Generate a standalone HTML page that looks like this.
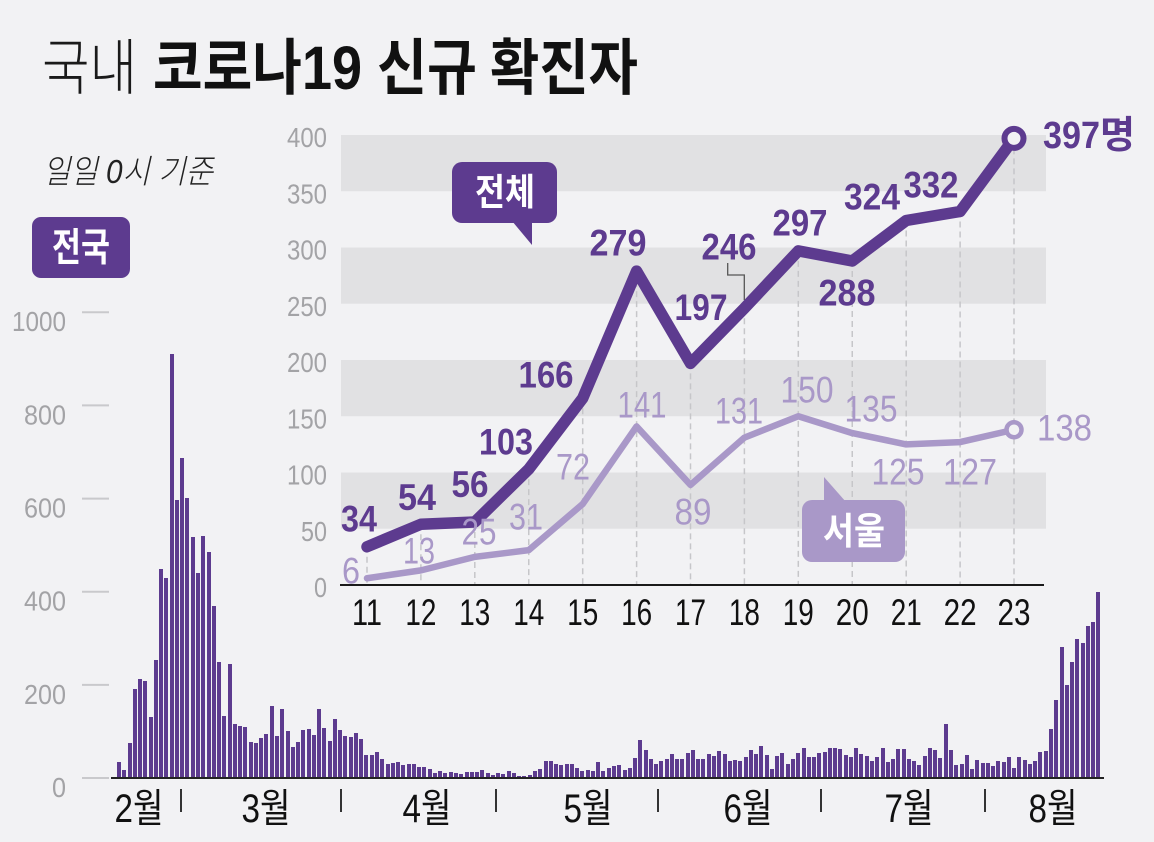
<!DOCTYPE html>
<html><head><meta charset="utf-8">
<style>
html,body{margin:0;padding:0;}
body{width:1154px;height:842px;background:#f2f2f4;position:relative;overflow:hidden;font-family:"Liberation Sans","Noto Sans CJK KR",sans-serif;}
#bars{position:absolute;left:117px;top:0;height:777px;display:flex;align-items:flex-end;}
#bars i{display:block;flex:none;width:4px;margin-right:1.274px;height:calc(var(--v) * 0.4657px);background:#5d3b8f;}
svg{position:absolute;left:0;top:0;}
</style></head><body>
<div id="bars">
<i style="--v:33"></i><i style="--v:16"></i><i style="--v:72"></i><i style="--v:190"></i><i style="--v:210"></i><i style="--v:206"></i><i style="--v:129"></i><i style="--v:252"></i><i style="--v:447"></i><i style="--v:427"></i><i style="--v:909"></i>
<i style="--v:595"></i><i style="--v:686"></i><i style="--v:600"></i><i style="--v:516"></i><i style="--v:438"></i><i style="--v:518"></i><i style="--v:483"></i><i style="--v:367"></i><i style="--v:248"></i><i style="--v:131"></i><i style="--v:242"></i><i style="--v:114"></i><i style="--v:110"></i><i style="--v:107"></i><i style="--v:76"></i><i style="--v:74"></i><i style="--v:84"></i><i style="--v:93"></i><i style="--v:152"></i><i style="--v:87"></i><i style="--v:147"></i><i style="--v:98"></i><i style="--v:64"></i><i style="--v:76"></i><i style="--v:100"></i><i style="--v:104"></i><i style="--v:91"></i><i style="--v:146"></i><i style="--v:105"></i><i style="--v:78"></i><i style="--v:125"></i>
<i style="--v:101"></i><i style="--v:89"></i><i style="--v:86"></i><i style="--v:94"></i><i style="--v:81"></i><i style="--v:47"></i><i style="--v:47"></i><i style="--v:53"></i><i style="--v:39"></i><i style="--v:27"></i><i style="--v:30"></i><i style="--v:32"></i><i style="--v:25"></i><i style="--v:27"></i><i style="--v:27"></i><i style="--v:22"></i><i style="--v:22"></i><i style="--v:18"></i><i style="--v:8"></i><i style="--v:13"></i><i style="--v:9"></i><i style="--v:11"></i><i style="--v:8"></i><i style="--v:6"></i><i style="--v:10"></i><i style="--v:10"></i><i style="--v:10"></i><i style="--v:14"></i><i style="--v:9"></i><i style="--v:4"></i>
<i style="--v:9"></i><i style="--v:6"></i><i style="--v:13"></i><i style="--v:8"></i><i style="--v:3"></i><i style="--v:2"></i><i style="--v:4"></i><i style="--v:12"></i><i style="--v:18"></i><i style="--v:34"></i><i style="--v:35"></i><i style="--v:27"></i><i style="--v:26"></i><i style="--v:29"></i><i style="--v:27"></i><i style="--v:19"></i><i style="--v:13"></i><i style="--v:15"></i><i style="--v:13"></i><i style="--v:32"></i><i style="--v:12"></i><i style="--v:20"></i><i style="--v:23"></i><i style="--v:25"></i><i style="--v:16"></i><i style="--v:19"></i><i style="--v:40"></i><i style="--v:79"></i><i style="--v:58"></i><i style="--v:39"></i><i style="--v:27"></i>
<i style="--v:35"></i><i style="--v:38"></i><i style="--v:49"></i><i style="--v:39"></i><i style="--v:39"></i><i style="--v:51"></i><i style="--v:57"></i><i style="--v:38"></i><i style="--v:38"></i><i style="--v:50"></i><i style="--v:45"></i><i style="--v:56"></i><i style="--v:49"></i><i style="--v:34"></i><i style="--v:37"></i><i style="--v:34"></i><i style="--v:43"></i><i style="--v:59"></i><i style="--v:49"></i><i style="--v:67"></i><i style="--v:48"></i><i style="--v:17"></i><i style="--v:46"></i><i style="--v:51"></i><i style="--v:28"></i><i style="--v:39"></i><i style="--v:51"></i><i style="--v:62"></i><i style="--v:42"></i><i style="--v:43"></i>
<i style="--v:51"></i><i style="--v:54"></i><i style="--v:63"></i><i style="--v:63"></i><i style="--v:61"></i><i style="--v:48"></i><i style="--v:44"></i><i style="--v:63"></i><i style="--v:50"></i><i style="--v:45"></i><i style="--v:35"></i><i style="--v:44"></i><i style="--v:62"></i><i style="--v:33"></i><i style="--v:39"></i><i style="--v:61"></i><i style="--v:60"></i><i style="--v:39"></i><i style="--v:34"></i><i style="--v:26"></i><i style="--v:45"></i><i style="--v:63"></i><i style="--v:59"></i><i style="--v:41"></i><i style="--v:113"></i><i style="--v:58"></i><i style="--v:25"></i><i style="--v:28"></i><i style="--v:48"></i><i style="--v:18"></i><i style="--v:36"></i>
<i style="--v:31"></i><i style="--v:30"></i><i style="--v:23"></i><i style="--v:34"></i><i style="--v:33"></i><i style="--v:43"></i><i style="--v:20"></i><i style="--v:43"></i><i style="--v:36"></i><i style="--v:28"></i><i style="--v:34"></i><i style="--v:54"></i><i style="--v:56"></i><i style="--v:103"></i><i style="--v:166"></i><i style="--v:279"></i><i style="--v:197"></i><i style="--v:246"></i><i style="--v:297"></i><i style="--v:288"></i><i style="--v:324"></i><i style="--v:332"></i><i style="--v:397"></i>
</div>
<svg width="1154" height="842" viewBox="0 0 1154 842" font-family="'Liberation Sans','Noto Sans CJK KR',sans-serif">
  <!-- Title -->
  <text x="42" y="89" font-size="61" font-weight="300" fill="#1a1a1a" textLength="95" lengthAdjust="spacingAndGlyphs">국내</text>
  <text x="153" y="89" font-size="61" font-weight="bold" fill="#111" textLength="209" lengthAdjust="spacingAndGlyphs">코로나19</text>
  <text x="377" y="89" font-size="61" font-weight="bold" fill="#111" textLength="100" lengthAdjust="spacingAndGlyphs">신규</text>
  <text x="490" y="89" font-size="61" font-weight="bold" fill="#111" textLength="148" lengthAdjust="spacingAndGlyphs">확진자</text>

  <!-- subtitle -->
  <text x="43" y="183" font-size="33" font-style="italic" font-weight="300" fill="#222" textLength="170" lengthAdjust="spacingAndGlyphs">일일 0시 기준</text>

  <!-- 전국 box -->
  <rect x="32" y="217" width="98" height="61" rx="9" fill="#5d3b8f"/>
  <text x="52" y="261" font-size="39" font-weight="bold" fill="#fff" textLength="58" lengthAdjust="spacingAndGlyphs">전국</text>

  <!-- Left axis ticks & labels -->
  <g stroke="#c9c9cc" stroke-width="2">
    <line x1="82" y1="312.3" x2="109" y2="312.3"/>
    <line x1="82" y1="405.4" x2="109" y2="405.4"/>
    <line x1="82" y1="498.6" x2="109" y2="498.6"/>
    <line x1="82" y1="591.7" x2="109" y2="591.7"/>
    <line x1="82" y1="684.9" x2="109" y2="684.9"/>
    <line x1="82" y1="778" x2="109" y2="778"/>
  </g>
  <g font-size="28" fill="#a3a3a6" text-anchor="end">
    <text x="66" y="331" textLength="54" lengthAdjust="spacingAndGlyphs">1000</text>
    <text x="66" y="424.4" textLength="42" lengthAdjust="spacingAndGlyphs">800</text>
    <text x="66" y="517.6" textLength="42" lengthAdjust="spacingAndGlyphs">600</text>
    <text x="66" y="610.7" textLength="42" lengthAdjust="spacingAndGlyphs">400</text>
    <text x="66" y="703.9" textLength="42" lengthAdjust="spacingAndGlyphs">200</text>
    <text x="66" y="797" textLength="14" lengthAdjust="spacingAndGlyphs">0</text>
  </g>

  <!-- Bar baseline -->
  <line x1="111" y1="778" x2="1104" y2="778" stroke="#222" stroke-width="2"/>
  <!-- month ticks -->
  <g stroke="#333" stroke-width="2">
    <line x1="181" y1="789" x2="181" y2="812"/>
    <line x1="341" y1="789" x2="341" y2="812"/>
    <line x1="496" y1="789" x2="496" y2="812"/>
    <line x1="658" y1="789" x2="658" y2="812"/>
    <line x1="821" y1="789" x2="821" y2="812"/>
    <line x1="985" y1="789" x2="985" y2="812"/>
  </g>
  <g font-size="40" fill="#111" text-anchor="middle">
    <text x="139" y="822" textLength="49" lengthAdjust="spacingAndGlyphs">2월</text>
    <text x="266" y="822" textLength="49" lengthAdjust="spacingAndGlyphs">3월</text>
    <text x="427" y="822" textLength="49" lengthAdjust="spacingAndGlyphs">4월</text>
    <text x="588" y="822" textLength="49" lengthAdjust="spacingAndGlyphs">5월</text>
    <text x="748" y="822" textLength="49" lengthAdjust="spacingAndGlyphs">6월</text>
    <text x="909" y="822" textLength="49" lengthAdjust="spacingAndGlyphs">7월</text>
    <text x="1053" y="822" textLength="49" lengthAdjust="spacingAndGlyphs">8월</text>
  </g>

  <!-- Inset bands -->
  <g fill="#e1e1e3">
    <rect x="341" y="135" width="705" height="56.25"/>
    <rect x="341" y="247.5" width="705" height="56.25"/>
    <rect x="341" y="360" width="705" height="56.25"/>
    <rect x="341" y="472.5" width="705" height="56.25"/>
  </g>
  <!-- Inset y labels -->
  <g font-size="28" fill="#a3a3a6" text-anchor="end">
    <text x="327" y="147" textLength="40" lengthAdjust="spacingAndGlyphs">400</text>
    <text x="327" y="203.25" textLength="40" lengthAdjust="spacingAndGlyphs">350</text>
    <text x="327" y="259.5" textLength="40" lengthAdjust="spacingAndGlyphs">300</text>
    <text x="327" y="315.75" textLength="40" lengthAdjust="spacingAndGlyphs">250</text>
    <text x="327" y="372" textLength="40" lengthAdjust="spacingAndGlyphs">200</text>
    <text x="327" y="428.25" textLength="40" lengthAdjust="spacingAndGlyphs">150</text>
    <text x="327" y="484.5" textLength="40" lengthAdjust="spacingAndGlyphs">100</text>
    <text x="327" y="540.75" textLength="26" lengthAdjust="spacingAndGlyphs">50</text>
    <text x="327" y="597" textLength="13" lengthAdjust="spacingAndGlyphs">0</text>
  </g>
  <!-- dashed verticals -->
  <g stroke="#c6c6c9" stroke-width="1.5" stroke-dasharray="6,4">
    <line x1="367" y1="546.75" x2="367" y2="585"/>
    <line x1="420.9" y1="524.25" x2="420.9" y2="585"/>
    <line x1="474.8" y1="522" x2="474.8" y2="585"/>
    <line x1="528.75" y1="469.1" x2="528.75" y2="585"/>
    <line x1="582.7" y1="398.25" x2="582.7" y2="585"/>
    <line x1="636.6" y1="271.1" x2="636.6" y2="585"/>
    <line x1="690.5" y1="363.4" x2="690.5" y2="585"/>
    <line x1="744.4" y1="308.25" x2="744.4" y2="585"/>
    <line x1="798.3" y1="250.9" x2="798.3" y2="585"/>
    <line x1="852.25" y1="261" x2="852.25" y2="585"/>
    <line x1="906.2" y1="220.5" x2="906.2" y2="585"/>
    <line x1="960.1" y1="211.5" x2="960.1" y2="585"/>
    <line x1="1014" y1="138.4" x2="1014" y2="585"/>
  </g>
  <!-- inset axis -->
  <line x1="340" y1="585" x2="1044" y2="585" stroke="#1a1a1a" stroke-width="2"/>
  <g font-size="37" fill="#111" text-anchor="middle">
    <text x="367" y="625" textLength="30" lengthAdjust="spacingAndGlyphs">11</text>
    <text x="420.9" y="625" textLength="31" lengthAdjust="spacingAndGlyphs">12</text>
    <text x="474.8" y="625" textLength="31" lengthAdjust="spacingAndGlyphs">13</text>
    <text x="528.75" y="625" textLength="31" lengthAdjust="spacingAndGlyphs">14</text>
    <text x="582.7" y="625" textLength="31" lengthAdjust="spacingAndGlyphs">15</text>
    <text x="636.6" y="625" textLength="31" lengthAdjust="spacingAndGlyphs">16</text>
    <text x="690.5" y="625" textLength="31" lengthAdjust="spacingAndGlyphs">17</text>
    <text x="744.4" y="625" textLength="31" lengthAdjust="spacingAndGlyphs">18</text>
    <text x="798.3" y="625" textLength="31" lengthAdjust="spacingAndGlyphs">19</text>
    <text x="852.25" y="625" textLength="33" lengthAdjust="spacingAndGlyphs">20</text>
    <text x="906.2" y="625" textLength="31" lengthAdjust="spacingAndGlyphs">21</text>
    <text x="960.1" y="625" textLength="33" lengthAdjust="spacingAndGlyphs">22</text>
    <text x="1014" y="625" textLength="33" lengthAdjust="spacingAndGlyphs">23</text>
  </g>

  <!-- Seoul line -->
  <polyline fill="none" stroke="#a998c8" stroke-width="6.5" stroke-linejoin="round" stroke-linecap="round"
    points="367,578.25 420.9,570.4 474.8,556.9 528.75,550.1 582.7,504 636.6,426.4 690.5,484.9 744.4,437.6 798.3,416.25 852.25,433.1 906.2,444.4 960.1,442.1 1014,429.75"/>
  <circle cx="1014" cy="429.75" r="7.5" fill="#f2f2f4" stroke="#a998c8" stroke-width="4.5"/>
  <!-- Total line -->
  <polyline fill="none" stroke="#5d3b8f" stroke-width="11.5" stroke-linejoin="round" stroke-linecap="round"
    points="367,546.75 420.9,524.25 474.8,522 528.75,469.1 582.7,398.25 636.6,271.1 690.5,363.4 744.4,308.25 798.3,250.9 852.25,261 906.2,220.5 960.1,211.5 1014,138.4"/>
  <circle cx="1014" cy="138.4" r="9.5" fill="#f2f2f4" stroke="#5d3b8f" stroke-width="6"/>

  <!-- leader for 246 -->
  <polyline fill="none" stroke="#555" stroke-width="1.3" points="727.7,263 727.7,275 744.3,275 744.3,300"/>

  <!-- Total labels -->
  <g font-size="37" font-weight="bold" fill="#5d3b8f" text-anchor="middle">
    <text x="359" y="531.5" textLength="36" lengthAdjust="spacingAndGlyphs">34</text>
    <text x="417" y="510" textLength="38" lengthAdjust="spacingAndGlyphs">54</text>
    <text x="470" y="497" textLength="37" lengthAdjust="spacingAndGlyphs">56</text>
    <text x="506" y="454.5" textLength="54" lengthAdjust="spacingAndGlyphs">103</text>
    <text x="546" y="387.5" textLength="55" lengthAdjust="spacingAndGlyphs">166</text>
    <text x="618" y="255.5" textLength="57" lengthAdjust="spacingAndGlyphs">279</text>
    <text x="701" y="320" textLength="53" lengthAdjust="spacingAndGlyphs">197</text>
    <text x="729" y="259.5" textLength="55" lengthAdjust="spacingAndGlyphs">246</text>
    <text x="800" y="235.5" textLength="55" lengthAdjust="spacingAndGlyphs">297</text>
    <text x="847" y="305.5" textLength="57" lengthAdjust="spacingAndGlyphs">288</text>
    <text x="872" y="209.5" textLength="56" lengthAdjust="spacingAndGlyphs">324</text>
    <text x="931" y="197.5" textLength="55" lengthAdjust="spacingAndGlyphs">332</text>
  </g>
  <text x="1043" y="148" font-size="38" font-weight="bold" fill="#5d3b8f" textLength="57" lengthAdjust="spacingAndGlyphs">397</text>
  <text x="1100" y="148" font-size="38" font-weight="bold" fill="#5d3b8f" textLength="35" lengthAdjust="spacingAndGlyphs">명</text>

  <!-- Seoul labels -->
  <g font-size="37" fill="#a998c8" text-anchor="middle">
    <text x="351" y="583.5" textLength="18" lengthAdjust="spacingAndGlyphs">6</text>
    <text x="419" y="563.5" textLength="32" lengthAdjust="spacingAndGlyphs">13</text>
    <text x="479" y="544.5" textLength="35" lengthAdjust="spacingAndGlyphs">25</text>
    <text x="526" y="529.5" textLength="34" lengthAdjust="spacingAndGlyphs">31</text>
    <text x="573" y="479.5" textLength="34" lengthAdjust="spacingAndGlyphs">72</text>
    <text x="642" y="417.5" textLength="49" lengthAdjust="spacingAndGlyphs">141</text>
    <text x="693" y="524.5" textLength="37" lengthAdjust="spacingAndGlyphs">89</text>
    <text x="739" y="423.5" textLength="48" lengthAdjust="spacingAndGlyphs">131</text>
    <text x="807" y="402.5" textLength="53" lengthAdjust="spacingAndGlyphs">150</text>
    <text x="871" y="421.5" textLength="53" lengthAdjust="spacingAndGlyphs">135</text>
    <text x="898" y="484.5" textLength="53" lengthAdjust="spacingAndGlyphs">125</text>
    <text x="970" y="484.5" textLength="54" lengthAdjust="spacingAndGlyphs">127</text>
    <text x="1064.5" y="440.5" textLength="55" lengthAdjust="spacingAndGlyphs">138</text>
  </g>

  <!-- 전체 callout -->
  <rect x="452" y="162" width="105" height="61" rx="10" fill="#5d3b8f"/>
  <polygon points="512,221 532,221 532,245" fill="#5d3b8f"/>
  <text x="475" y="205" font-size="37" font-weight="bold" fill="#fff" textLength="60" lengthAdjust="spacingAndGlyphs">전체</text>

  <!-- 서울 callout -->
  <rect x="802" y="500" width="103" height="62" rx="10" fill="#a998c8"/>
  <polygon points="824,477 824,502 846,502" fill="#a998c8"/>
  <text x="823" y="544" font-size="37" font-weight="bold" fill="#fff" textLength="62" lengthAdjust="spacingAndGlyphs">서울</text>
</svg>
</body></html>
